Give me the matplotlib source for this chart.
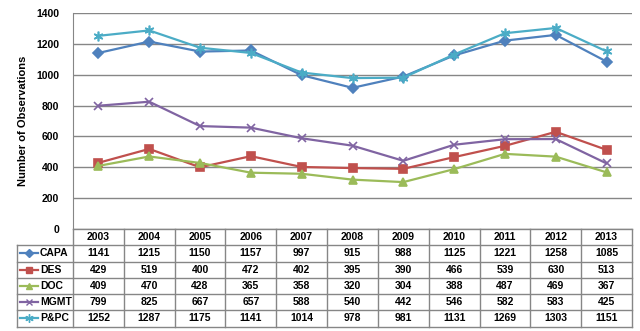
import numpy as np
import matplotlib.pyplot as plt

years = ['2003', '2004', '2005', '2006', '2007', '2008', '2009', '2010', '2011', '2012', '2013']
names = ['CAPA', 'DES', 'DOC', 'MGMT', 'P&PC']
capa = [1141, 1215, 1150, 1157, 997, 915, 988, 1125, 1221, 1258, 1085]
des = [429, 519, 400, 472, 402, 395, 390, 466, 539, 630, 513]
doc = [409, 470, 428, 365, 358, 320, 304, 388, 487, 469, 367]
mgmt = [799, 825, 667, 657, 588, 540, 442, 546, 582, 583, 425]
ppc = [1252, 1287, 1175, 1141, 1014, 978, 981, 1131, 1269, 1303, 1151]

series = [capa, des, doc, mgmt, ppc]
colors = ['#4F81BD', '#C0504D', '#9BBB59', '#8064A2', '#4BACC6']
markers = ['D', 's', '^', 'x', (6, 2, 0)]
msizes = [5, 6, 6, 6, 7]

plt.rcParams['font.family'] = ['Liberation Sans', 'DejaVu Sans']
plt.rcParams['font.weight'] = 'bold'
grid_c = '#868686'

W, H = 640, 331
fig = plt.figure(figsize=(6.4, 3.31), dpi=100)

def box(l, t, r, b):
    return [l / W, 1 - b / H, (r - l) / W, (b - t) / H]

ax = fig.add_axes(box(73, 13, 632, 229))
x = np.arange(len(years))
for vals, c, m, s in zip(series, colors, markers, msizes):
    ax.plot(x, vals, color=c, lw=1.6, marker=m, ms=s, mec=c, mfc=c, mew=1.2)
ax.set_xlim(-0.5, len(years) - 0.5)
ax.set_ylim(0, 1400)
ax.set_yticks(range(0, 1401, 200))
ax.yaxis.grid(True, color=grid_c, lw=1)
ax.set_axisbelow(True)
ax.set_xticks([])
ax.tick_params(axis='y', length=0, labelsize=7.5, pad=10)
for lab in ax.get_yticklabels():
    lab.set_fontweight('bold')
for sp in ['top', 'right', 'bottom']:
    ax.spines[sp].set_visible(False)
ax.spines['left'].set_color(grid_c)
ax.set_ylabel('Number of Observations', fontsize=8, fontweight='bold', labelpad=6)

# data table below the plot
tx = fig.add_axes(box(73, 229, 632, 326.5))
tx.set_xlim(-0.5, len(years) - 0.5)
nrows = len(names) + 1
tx.set_ylim(nrows, 0)
tx.axis('off')
unit = (632 - 73) / len(years)
left = -0.5 - (73 - 17) / unit
kw = dict(color=grid_c, lw=1, clip_on=False)
# horizontal lines
tx.plot([-0.5, len(years) - 0.5], [0, 0], **kw)
for r in range(1, nrows + 1):
    tx.plot([left, len(years) - 0.5], [r, r], **kw)
# vertical lines
for c in range(len(years) + 1):
    tx.plot([c - 0.5, c - 0.5], [0, nrows], **kw)
tx.plot([left, left], [1, nrows], **kw)

for i, yr in enumerate(years):
    tx.text(i, 0.5, yr, ha='center', va='center', fontsize=7.5, fontweight='bold')
for r, (nm, vals, c, m, s) in enumerate(zip(names, series, colors, markers, msizes), start=1):
    cy = r + 0.5
    for i, v in enumerate(vals):
        tx.text(i, cy, str(v), ha='center', va='center', fontsize=7.5, fontweight='bold')
    kx0 = left + 3 / unit
    kx1 = left + 21 / unit
    tx.plot([kx0, kx1], [cy, cy], color=c, lw=1.6, clip_on=False)
    tx.plot([(kx0 + kx1) / 2], [cy], marker=m, color=c, ms=s - 1, mew=1, clip_on=False)
    tx.text(left + 23 / unit, cy, nm, ha='left', va='center', fontsize=7.5, fontweight='bold')

fig.savefig('out.png', dpi=100)
